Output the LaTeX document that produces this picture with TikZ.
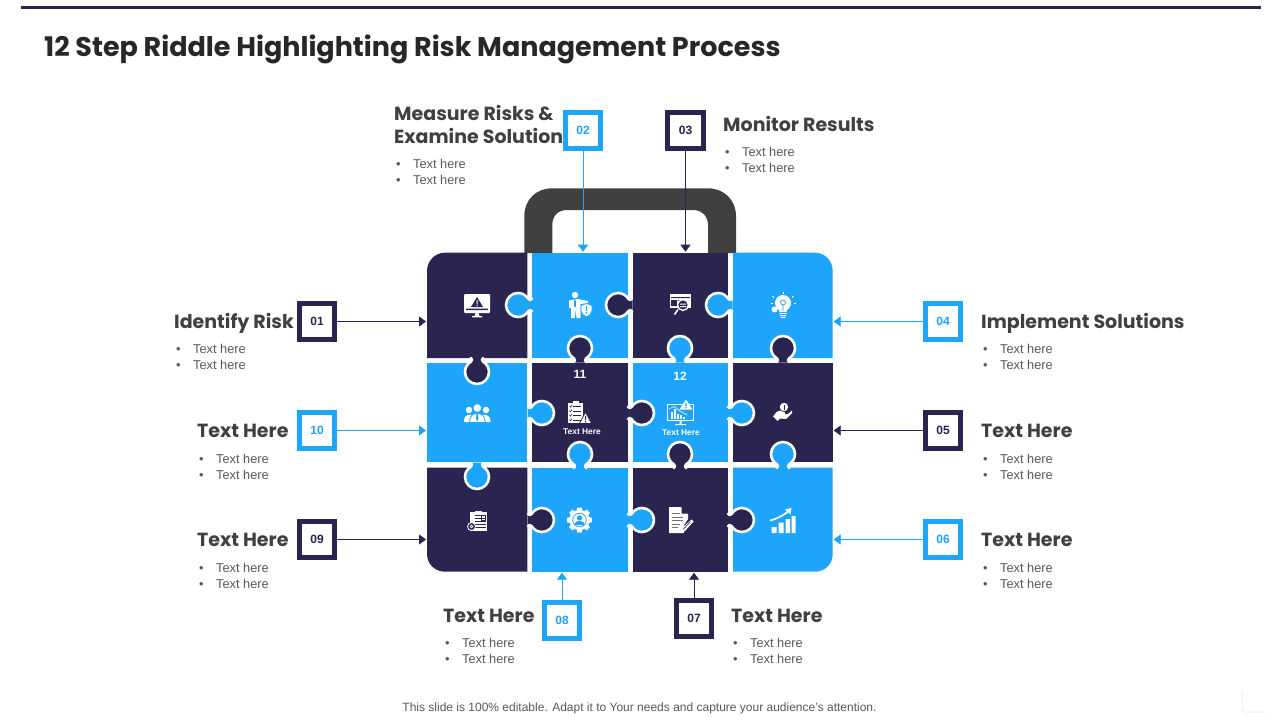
\documentclass[tikz,border=0pt]{standalone}
\usepackage{fontspec}
\setmainfont{Liberation Sans}
\newfontfamily\hdfont{Poppins}
\usetikzlibrary{arrows.meta,shadows}
\definecolor{navy}{HTML}{2A2450}
\definecolor{sky}{HTML}{1DA4FB}
\definecolor{handle}{HTML}{404040}
\definecolor{head}{HTML}{404040}
\definecolor{body}{HTML}{595959}
\tikzset{
  numbox/.style={draw=#1,line width=5pt,fill=white,minimum size=35.5pt,inner sep=0pt,
    font=\fontsize{12}{12}\selectfont\bfseries,text=#1,
    drop shadow={shadow xshift=1pt,shadow yshift=-1pt,opacity=.25,fill=black}},
  piece/.style={minimum width=#1,inner sep=0pt,outer sep=0pt},
  link/.style={line width=.8pt,-{Triangle[length=7pt,width=10pt]},shorten >=1pt},
  heading/.style={anchor=base west,inner sep=0pt,font=\hdfont\fontsize{19}{19}\selectfont\bfseries,text=head},
  bodytxt/.style={anchor=base west,inner sep=0pt,font=\fontsize{12.8}{13}\selectfont,text=body},
  tabshape/.style={draw=white,line width=2.6pt,line join=round,fill=#1},
  ic/.style={fill=white,draw=none},
}
\newcommand\ptab[4]{%
  \draw[tabshape=#4,shift={(#1,#2)},rotate=#3]
   (-14.5,-7) .. controls (-13,-4.5) and (-12,-4.5) .. (-10.39,-6)
   .. controls (-8.25,-9.71) and (-4.29,-12) .. (0,-12)
   .. controls (6.63,-12) and (12,-6.63) .. (12,0)
   .. controls (12,6.63) and (6.63,12) .. (0,12)
   .. controls (-4.29,12) and (-8.25,9.71) .. (-10.39,6)
   .. controls (-12,4.5) and (-13,4.5) .. (-14.5,7);}
\newcommand\lst[3]{%
  \node[bodytxt] (#3b1) at (#1-17,#2) {•};
  \node[bodytxt] (#3t1) at (#1,#2) {Text here};
  \node[bodytxt] (#3b2) at (#1-17,#2+16) {•};
  \node[bodytxt] (#3t2) at (#1,#2+16) {Text here};}
\begin{document}
\begin{tikzpicture}[x=1pt,y=-1pt]
\useasboundingbox (0,0) rectangle (1280,720);
\fill[white] (0,0) rectangle (1280,720);
\fill[navy] (21,6) rectangle (1261,8.5);
\node[anchor=base west,inner sep=0pt,font=\hdfont\fontsize{27}{27}\selectfont\bfseries,text=head!60!black] (title) at (44,56) {12 Step Riddle Highlighting Risk Management Process};
% handle
\fill[handle,even odd rule] (524.3,253) -- (524.3,216) .. controls (524.3,200) and (536,188.3) .. (552,188.3) -- (708,188.3) .. controls (724,188.3) and (736,200) .. (736,216) -- (736,253) -- (708,253) -- (708,225) .. controls (708,216) and (702,210) .. (693,210) -- (567,210) .. controls (558,210) and (552.3,216) .. (552.3,225) -- (552.3,253) -- cycle;
% pieces
\node[piece=100.3pt,minimum height=105.3pt] (p11) at (477.15,305.35) {};
\node[piece=96pt,minimum height=105.3pt,fill=sky] (p12) at (580,305.35) {};
\node[piece=95.3pt,minimum height=105.3pt,fill=navy] (p13) at (680.35,305.35) {};
\node[piece=99.7pt,minimum height=105.3pt] (p14) at (782.85,305.35) {};
\node[piece=100.3pt,minimum height=99.6pt,fill=sky] (p21) at (477.15,412.5) {};
\node[piece=96pt,minimum height=99.6pt,fill=navy] (p22) at (580,412.5) {};
\node[piece=95.3pt,minimum height=99.6pt,fill=sky] (p23) at (680.35,412.5) {};
\node[piece=99.7pt,minimum height=99.6pt,fill=navy] (p24) at (782.85,412.5) {};
\node[piece=100.3pt,minimum height=104pt] (p31) at (477.15,519.7) {};
\node[piece=96pt,minimum height=104pt,fill=sky] (p32) at (580,519.7) {};
\node[piece=95.3pt,minimum height=104pt,fill=navy] (p33) at (680.35,519.7) {};
\node[piece=99.7pt,minimum height=104pt] (p34) at (782.85,519.7) {};
\fill[navy] (527.3,358) -- (427,358) -- (427,271) .. controls (427,261) and (435,252.7) .. (445,252.7) -- (527.3,252.7) -- cycle;
\fill[sky] (733,252.7) -- (815,252.7) .. controls (825,252.7) and (832.7,261) .. (832.7,271) -- (832.7,358) -- (733,358) -- cycle;
\fill[navy] (527.3,467.7) -- (427,467.7) -- (427,554) .. controls (427,564) and (435,571.7) .. (445,571.7) -- (527.3,571.7) -- cycle;
\fill[sky] (733,467.7) -- (832.7,467.7) -- (832.7,554) .. controls (832.7,564) and (825,571.7) .. (815,571.7) -- (733,571.7) -- cycle;
% tabs
\ptab{518}{305}{180}{sky}
\ptab{618}{305}{180}{navy}
\ptab{718}{305}{180}{sky}
\ptab{477}{372}{-90}{navy}
\ptab{580}{348}{90}{navy}
\ptab{680}{348}{90}{sky}
\ptab{783}{348}{90}{navy}
\ptab{542}{413}{0}{sky}
\ptab{642}{413}{0}{navy}
\ptab{742}{413}{0}{sky}
\ptab{477}{477}{-90}{sky}
\ptab{580}{454}{90}{sky}
\ptab{680}{454}{90}{navy}
\ptab{783}{454}{90}{sky}
\ptab{542}{520}{0}{navy}
\ptab{642}{520}{0}{sky}
\ptab{742}{520}{0}{navy}
% icon 1 monitor
\fill[ic,rounded corners=1] (464,294) rectangle (490,313);
\fill[navy] (477,297) -- (483,307) -- (471,307) -- cycle (466,308.5) rectangle (488,310);
\fill[white] (476.5,300) rectangle (477.5,304) (476.5,304.8) rectangle (477.5,306);
\fill[ic] (475.5,313) -- (478.5,313) -- (479.5,316) -- (482,316) -- (482,317.3) -- (472,317.3) -- (472,316) -- (474.5,316) -- cycle;
% icon 2 person shield
\fill[ic] (575,295) circle[radius=3.2];
\fill[ic] (569,300.5) -- (578,299) -- (588,301) -- (588,303.2) -- (580.5,304) -- (580.5,318) -- (576.5,318) -- (575.7,309) -- (574.8,318) -- (571,318) -- (571,308) -- (569,308) -- cycle;
\fill[sky] (574.3,300) -- (575.7,300) -- (576,306) -- (575,307.5) -- (574,306) -- cycle;
\draw[fill=white,draw=sky,line width=.8pt] (581,305.5) -- (586.5,303.5) -- (592,305.5) -- (592,311) .. controls (591.5,314) and (589,316) .. (586.5,317) .. controls (584,316) and (581.5,314) .. (581,311) -- cycle;
\fill[sky] (585.8,306) rectangle (587.2,311) (585.8,312) rectangle (587.2,313.6);
% icon 3 page magnifier
\fill[ic] (670,294) rectangle (691,308);
\fill[navy] (671,297) rectangle (690,298) (671,300) rectangle (677,306) (678,300) rectangle (681,301);
\draw[white,line width=1.6pt] (678,309.5) -- (674.5,314.5);
\draw[white,fill=navy,line width=1.3pt] (683,305) circle[radius=5.4];
\fill[white] (680,303.5) rectangle (686,304.5) (680,306) rectangle (686,307);
% icon 4 bulb
\fill[ic] (783,303) circle[radius=8];
\fill[ic] (778,307) -- (788,307) -- (786.5,312) -- (779.5,312) -- cycle;
\fill[ic] (779.5,313) rectangle (786.5,314.2) (780,315.2) rectangle (786,316.4) (781,317) rectangle (785,318);
\draw[sky,line width=.8pt] (783,311) -- (783,305) (783,302.5) circle[radius=2.5];
\fill[ic] (774.5,309.5) circle[radius=3];
\foreach \a/\b/\c/\d in {783/292/783/294,772.5/296/774/297.5,793.5/296/792/297.5,770.5/303/772.5/303,795.5/303/793.5/303}{\draw[white,line width=1pt] (\a,\b) -- (\c,\d);}
% icon 5 team
\fill[ic] (469,410) circle[radius=3.2] (486,410) circle[radius=3.2];
\fill[ic] (464,422) .. controls (464,416) and (466,415) .. (471,414.5) -- (473,422) -- cycle;
\fill[ic] (490.5,422) .. controls (490.5,416) and (488,415) .. (483,414.5) -- (481,422) -- cycle;
\draw[white,fill=white,draw=sky,line width=.8pt] (477.3,408) circle[radius=4.4];
\draw[fill=white,draw=sky,line width=.8pt] (469.5,422.5) .. controls (470,415) and (473,413.5) .. (477.3,413.5) .. controls (481.5,413.5) and (485,415) .. (485,422.5) -- cycle;
\fill[sky] (476.5,414) -- (478,414) -- (478.5,419) -- (477.3,421) -- (476,419) -- cycle;
% icon 6 checklist
\fill[ic] (568,402.5) rectangle (583,423);
\fill[ic] (572.5,401) rectangle (578.5,403);
\foreach \y in {406,410.5,415,419.5}{\fill[navy] (573,\y) rectangle (581,\y+.9);\draw[navy,line width=.6pt] (569.5,\y) -- (570.5,\y+1.2) -- (572,\y-1);}
\draw[fill=white,draw=navy,line width=.8pt,line join=round] (585.5,412) -- (591.5,423.5) -- (579.5,423.5) -- cycle;
\fill[navy] (585,416) rectangle (586,420) (585,421) rectangle (586,422.3);
\node[text=white,font=\fontsize{12}{12}\selectfont\bfseries,inner sep=0pt] (t11) at (580,374) {11};
\node[text=white,font=\fontsize{8.4}{9}\selectfont\bfseries,inner sep=0pt] (l11) at (582,432) {Text Here};
% icon 7 chart monitor
\draw[white,line width=1pt] (667.5,404.5) rectangle (693.5,420.5);
\fill[ic] (679.5,420.5) rectangle (681.5,424) (675,424) rectangle (686,425);
\foreach \x/\t in {671/412,674/409,677/414,680/415,683/417}{\fill[ic] (\x,\t) rectangle (\x+2,419);}
\draw[white,line width=.6pt] (669,409) -- (674,406.5) -- (680,411) -- (687,415);
\fill[ic] (686,399.5) -- (692.5,409.5) -- (679.5,409.5) -- cycle;
\fill[sky] (685.4,402.5) rectangle (686.6,406.2) (685.4,407) rectangle (686.6,408.3);
\node[text=white,font=\fontsize{12}{12}\selectfont\bfseries,inner sep=0pt] (t12) at (680,376) {12};
\node[text=white,font=\fontsize{8.4}{9}\selectfont\bfseries,inner sep=0pt] (l12) at (681,433) {Text Here};
% icon 8 hand coin
\fill[ic] (784,407) circle[radius=4.2];
\fill[navy] (783.5,404.5) rectangle (784.7,409.5);
\fill[ic] (773,416.5) -- (776.5,412) -- (780,410.5) -- (785,412.5) -- (785,414.5) -- (788,414) -- (792,410.5) -- (792,413) -- (786,419) -- (780,418.5) -- (777.5,421) -- cycle;
% icon 9 clipboard gear
\fill[ic] (470,512) rectangle (487,531);
\fill[ic] (475,510.5) rectangle (482,513);
\foreach \y in {515,518,521,524,527}{\fill[navy] (475,\y) rectangle (485.5,\y+.6);}
\draw[navy,line width=.7pt] (481,515) rectangle (485,520);
\draw[fill=navy,draw=white,line width=.8pt] (471.5,526.5) circle[radius=4];
\draw[white,line width=.8pt] (471.5,526.5) circle[radius=1.4];
% icon 10 gear person
\foreach \a in {0,45,...,315}{\fill[ic,shift={(579.5,520)},rotate=\a] (-3,-9) -- (-2.2,-12.5) -- (2.2,-12.5) -- (3,-9) -- cycle;}
\fill[ic] (579.5,520) circle[radius=10];
\fill[sky] (579.5,520) circle[radius=7.2];
\fill[ic] (579.5,520) circle[radius=6.3];
\fill[sky] (579.5,518) circle[radius=2.6];
\fill[sky] (574.5,525) .. controls (575,521.5) and (577,521) .. (579.5,521) .. controls (582,521) and (584,521.5) .. (584.5,525) -- cycle;
% icon 11 document pencil
\fill[ic] (669,507) -- (681,507) -- (688,514) -- (688,519) -- (684,525) -- (684,533) -- (669,533) -- cycle;
\foreach \y/\e in {513/680,516.5/683,520/683,523.5/680,527/678}{\fill[black!55] (671.5,\y) rectangle (\e,\y+1.3);}
\fill[navy] (681.5,507) -- (681.5,513.5) -- (688,513.5) -- cycle;
\fill[ic] (691.5,519.5) -- (693.5,521.5) -- (685,531) -- (681,532) -- (682,528) -- cycle;
\draw[navy,line width=.6pt] (690.5,521.5) -- (683,529.5);
% icon 12 bars
\fill[ic] (771.5,527) rectangle (776.5,533) (778.5,522.5) rectangle (783.5,533) (785.5,519) rectangle (790,533) (791.5,516) rectangle (795.5,533);
\draw[white,line width=1.7pt] (770,520.5) .. controls (778,518.5) and (784,515) .. (789.5,510.5);
\fill[ic] (791.5,508) -- (785,509.5) -- (790.5,514.5) -- cycle;
% number boxes
\node[numbox=navy] (n01) at (317,321.5) {01};
\node[numbox=sky] (n10) at (317,430.5) {10};
\node[numbox=navy] (n09) at (317,539.5) {09};
\node[numbox=sky] (n02) at (583,130.5) {02};
\node[numbox=navy] (n03) at (685.5,130.5) {03};
\node[numbox=sky] (n04) at (943,321.5) {04};
\node[numbox=navy] (n05) at (943,430.5) {05};
\node[numbox=sky] (n06) at (943,539.5) {06};
\node[numbox=sky] (n08) at (562,620.5) {08};
\node[numbox=navy] (n07) at (694,618.5) {07};
% connectors
\draw[link,navy] (n01.east) -- (n01.east -| p11.west);
\draw[link,sky] (n10.east) -- (n10.east -| p21.west);
\draw[link,navy] (n09.east) -- (n09.east -| p31.west);
\draw[link,sky] (n02.south) -- (n02.south |- p12.north);
\draw[link,navy] (n03.south) -- (n03.south |- p13.north);
\draw[link,sky] (n04.west) -- (n04.west -| p14.east);
\draw[link,navy] (n05.west) -- (n05.west -| p24.east);
\draw[link,sky] (n06.west) -- (n06.west -| p34.east);
\draw[link,sky] (n08.north) -- (n08.north |- p32.south);
\draw[link,navy] (n07.north) -- (n07.north |- p33.south);
% labels
\node[heading] (h01) at (174,328) {Identify Risk};
\lst{193}{353}{a}
\node[heading] (h10) at (197,437) {Text Here};
\lst{216}{463}{b}
\node[heading] (h09) at (197,546) {Text Here};
\lst{216}{572}{c}
\node[heading] (h02a) at (394,120) {Measure Risks \&};
\node[heading] (h02b) at (394,143) {Examine Solution};
\lst{413}{168}{d}
\node[heading] (h03) at (723,131) {Monitor Results};
\lst{742}{156}{e}
\node[heading] (h04) at (981,328) {Implement Solutions};
\lst{1000}{353}{f}
\node[heading] (h05) at (981,437) {Text Here};
\lst{1000}{463}{g}
\node[heading] (h06) at (981,546) {Text Here};
\lst{1000}{572}{h}
\node[heading] (h08) at (443,622) {Text Here};
\lst{462}{647}{i}
\node[heading] (h07) at (731,622) {Text Here};
\lst{750}{647}{j}
\node[font=\fontsize{12}{12}\selectfont,text=body,inner sep=0pt] (foot) at (639.5,708.5) {This slide is 100\% editable. Adapt it to Your needs and capture your audience's attention.};
\draw[black!7,line width=1pt,rounded corners=3] (1242,690) -- (1242,712) -- (1265,712);
\end{tikzpicture}
\end{document}
